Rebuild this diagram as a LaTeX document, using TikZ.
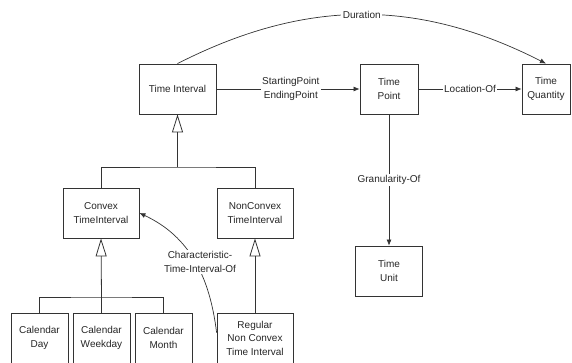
\documentclass[tikz,border=0pt]{standalone}
\usepackage{fontspec}
\setmainfont{Liberation Sans}
\usepackage{tikz}
\usetikzlibrary{arrows.meta,positioning}

\begin{document}
\begin{tikzpicture}[x=1pt,y=1pt,
    box/.style={draw=black!80, line width=0.8pt, minimum height=50pt, inner sep=0pt,
        align=center, text=black!85, font=\fontsize{10}{13.5}\selectfont},
    rel/.style={draw=black!80, line width=0.7pt, -{Latex[length=6pt,width=5pt]}},
    gen/.style={draw=black!80, line width=0.8pt, -{Triangle[open,length=18pt,width=11pt]}},
    lbl/.style={fill=white, inner sep=1.5pt, align=center, text=black!85,
        font=\fontsize{10}{13.5}\selectfont}]
    \useasboundingbox (0,0) rectangle (572,-362);

    % Top row
    \node[box, minimum width=77pt] (ti) at (177.5,-89) {Time Interval};
    \node[box, minimum width=58pt] (tp) at (389,-89) {Time\\Point};
    \node[box, minimum width=48pt] (tq) at (546,-89) {Time\\Quantity};
    \node[box, minimum width=67pt] (tu) at (389,-271) {Time\\Unit};

    % Interval kinds
    \node[box, minimum width=76pt] (conv) at (101,-213) {Convex\\TimeInterval};
    \node[box, minimum width=76pt] (nconv) at (255,-213) {NonConvex\\TimeInterval};

    % Bottom row
    \node[box, minimum width=57pt] (day) at (39.5,-338) {Calendar\\Day};
    \node[box, minimum width=57pt] (week) at (101.5,-338) {Calendar\\Weekday};
    \node[box, minimum width=57pt] (month) at (163.5,-338) {Calendar\\Month};
    \node[box, minimum width=76pt] (reg) at (255,-338) {Regular\\Non Convex\\Time Interval};

    % Generalizations
    \coordinate (j1) at (177.5,-167);
    \coordinate (j2) at (101.5,-297);
    \draw[gen] (j1) -- (ti.south);
    \draw[draw=black!80, line width=0.8pt] (conv.north) |- (j1) -| (nconv.north);
    \draw[gen] (j2) -- (conv.south);
    \draw[draw=black!80, line width=0.8pt] (day.north) |- (j2) -| (month.north);
    \draw[draw=black!80, line width=0.8pt] (week.north) -- (j2);
    \draw[gen] (reg.north) -- (nconv.south);

    % Relations
    \draw[rel] (ti.north) to[out=27,in=153] node[lbl, pos=0.5] (dur) {Duration} (tq.north);
    \draw[rel] (ti.east) -- node[lbl, pos=0.52] (sep) {StartingPoint\\EndingPoint} (tp.west);
    \draw[rel] (tp.east) -- node[lbl] (loc) {Location-Of} (tq.west);
    \draw[rel] (tp.south) -- node[lbl, pos=0.5] (gran) {Granularity-Of} (tu.north);
    \draw[rel] ([yshift=-20pt]reg.north west) to[out=97,in=-25] (conv.east);
    \node[lbl] (chr) at (200,-262) {Characteristic-\\Time-Interval-Of};
\end{tikzpicture}
\end{document}
